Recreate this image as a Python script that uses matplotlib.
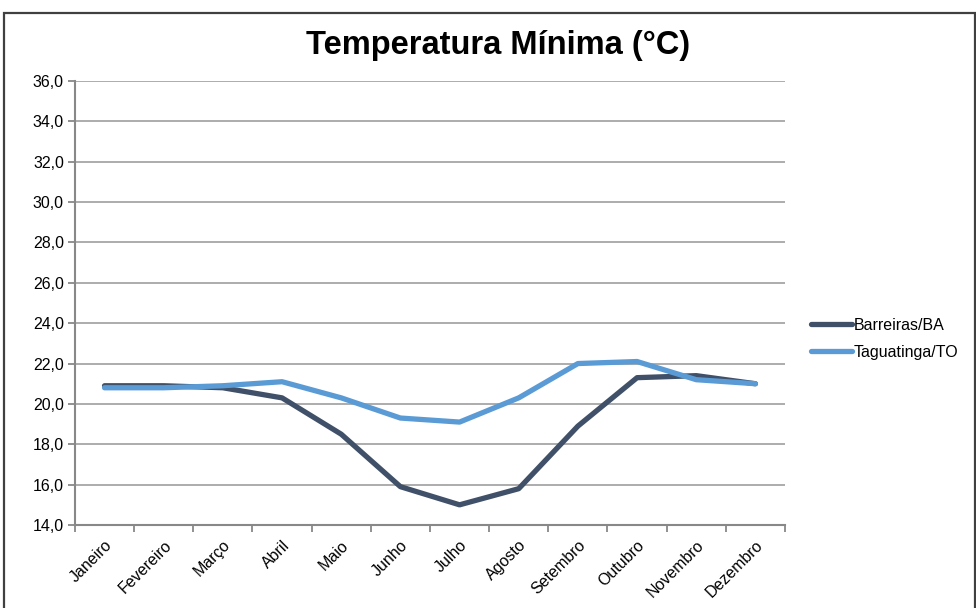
import matplotlib.pyplot as plt
from matplotlib.patches import Rectangle

plt.rcParams['font.family'] = ['Liberation Sans', 'DejaVu Sans']

meses = ['Janeiro', 'Fevereiro', 'Março', 'Abril', 'Maio', 'Junho',
         'Julho', 'Agosto', 'Setembro', 'Outubro', 'Novembro', 'Dezembro']
barreiras = [20.9, 20.9, 20.8, 20.3, 18.5, 15.9, 15.0, 15.8, 18.9, 21.3, 21.4, 21.0]
taguatinga = [20.8, 20.8, 20.9, 21.1, 20.3, 19.3, 19.1, 20.3, 22.0, 22.1, 21.2, 21.0]
y_ticks = [14, 16, 18, 20, 22, 24, 26, 28, 30, 32, 34, 36]

fig = plt.figure(figsize=(9.76, 6.08), dpi=100)
ax = fig.add_axes([0.0768, 0.1365, 0.7275, 0.7303])

# moldura do gráfico
fig.patches.append(Rectangle((4 / 976, -0.05), 971 / 976, 1.05 - 13 / 608,
                             transform=fig.transFigure, fill=False,
                             edgecolor='#404040', linewidth=1.6))

x = list(range(len(meses)))
ax.plot(x, barreiras, color='#3f5068', linewidth=3.8, solid_capstyle='round',
        label='Barreiras/BA')
ax.plot(x, taguatinga, color='#5b9bd5', linewidth=3.8, solid_capstyle='round',
        label='Taguatinga/TO')

ax.set_xlim(-0.5, len(meses) - 0.5)
ax.set_ylim(14, 36)
ax.set_yticks(y_ticks)
ax.set_yticklabels([f'{v:.1f}'.replace('.', ',') for v in y_ticks], fontsize=11.5)
ax.yaxis.grid(True, color='#a6a6a6', linewidth=1.3)
ax.set_axisbelow(True)

ax.set_xticks(x)
ax.set_xticklabels(meses, rotation=45, ha='right', rotation_mode='anchor', fontsize=11.5)
ax.tick_params(axis='x', length=0, pad=9)
ax.set_xticks([i - 0.5 for i in range(len(meses) + 1)], minor=True)
ax.tick_params(axis='x', which='minor', length=5, color='#888888', width=1.3)
ax.tick_params(axis='y', length=5, color='#888888', width=1.3, pad=3)

for s in ['top', 'right']:
    ax.spines[s].set_visible(False)
for s in ['left', 'bottom']:
    ax.spines[s].set_color('#888888')
    ax.spines[s].set_linewidth(1.5)

fig.text(0.51, 0.925, 'Temperatura Mínima (°C)', ha='center', va='center',
         fontsize=23.5, fontweight='bold')

fig.legend(loc='center left', bbox_to_anchor=(0.816, 0.443), frameon=False,
           fontsize=11.5, handlelength=2.6, handletextpad=0.1, labelspacing=0.75)

fig.savefig('out.png', dpi=100)
